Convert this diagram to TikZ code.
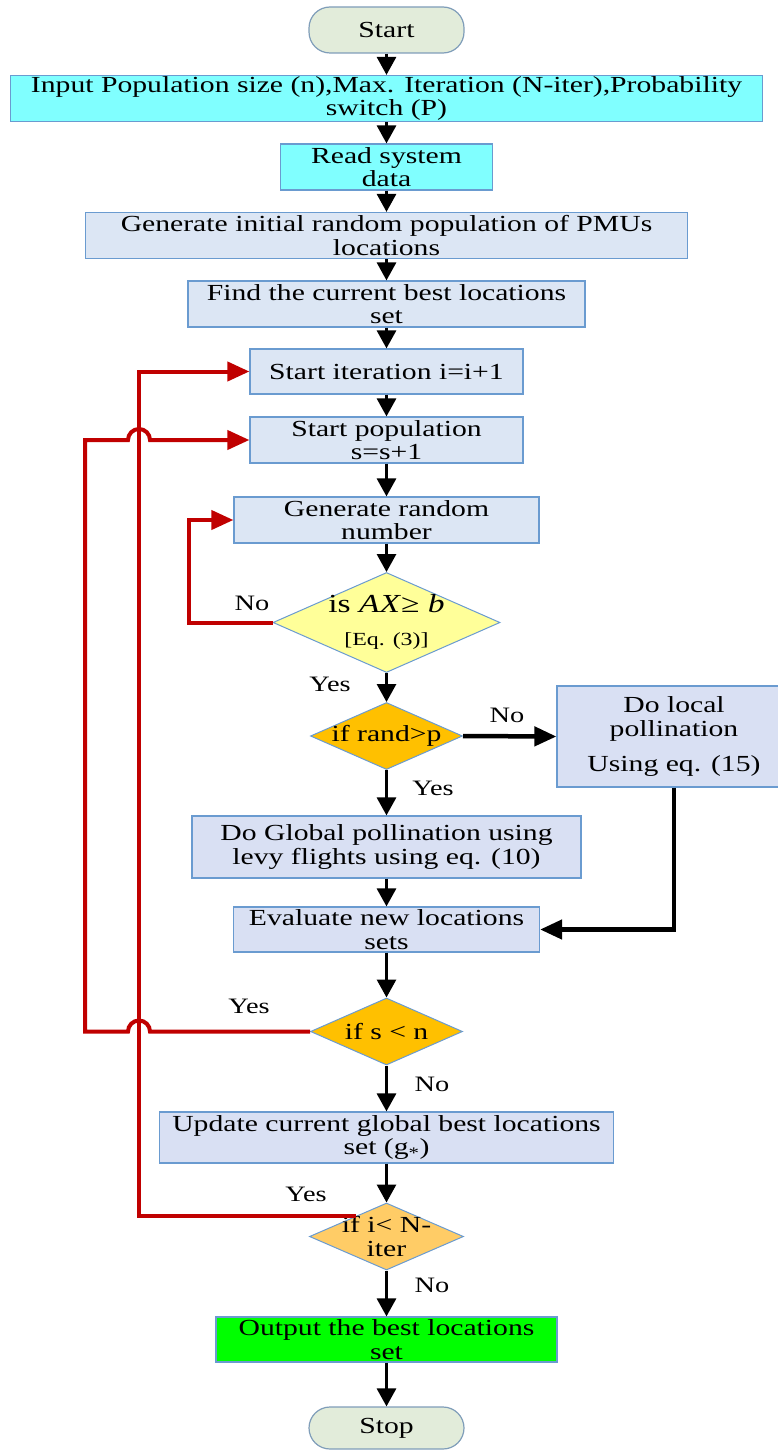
\documentclass[tikz,border=0pt]{standalone}
\usepackage{fontspec}
\setmainfont{Liberation Serif}[FakeStretch=1.29]
\usetikzlibrary{shapes.geometric,arrows.meta,calc}
\definecolor{bordc}{HTML}{6A9BD0}
\definecolor{termb}{HTML}{7F9DB9}
\definecolor{termc}{HTML}{E2ECDA}
\definecolor{cyanc}{HTML}{80FFFF}
\definecolor{lbluea}{HTML}{DCE6F4}
\definecolor{lblueb}{HTML}{D9E0F3}
\definecolor{yelc}{HTML}{FFFF99}
\definecolor{orc}{HTML}{FFC000}
\definecolor{lorc}{HTML}{FFCC66}
\definecolor{grc}{HTML}{00FF00}
\definecolor{redc}{HTML}{C00000}
\begin{document}
\begin{tikzpicture}[x=1pt,y=-1pt,
  font=\fontsize{23}{23.5}\selectfont,
  box/.style={draw=bordc, line width=1.2pt, rectangle, inner sep=0pt, align=center, text=black},
  term/.style={box, draw=termb, rounded corners=21pt, fill=termc},
  diam/.style={diamond, draw=bordc, line width=1pt, inner sep=0pt},
  arr/.style={line width=3pt, -{Triangle[width=19pt,length=18pt]}},
  tharr/.style={line width=4.5pt, -{Triangle[width=19pt,length=22pt]}},
  redarr/.style={line width=4pt, draw=redc, line join=miter, -{Triangle[width=19pt,length=22pt]}},
  lab/.style={inner sep=0pt, font=\fontsize{22}{24}\selectfont}
]
\useasboundingbox (0,0) rectangle (777,1450);

% nodes
\node[term, minimum width=155pt, minimum height=46pt] (start) at (386.5,30) {Start};
\node[box, fill=cyanc, minimum width=752pt, minimum height=46pt] (input) at (386.5,98.5)
  {Input Population size (n),Max. Iteration (N-iter),Probability\\switch (P)};
\node[box, fill=cyanc, minimum width=212pt, minimum height=46pt] (read) at (386.5,167) {Read system\\data};
\node[box, fill=lbluea, minimum width=602pt, minimum height=46pt] (geninit) at (386.5,235.5)
  {Generate initial random population of PMUs\\locations};
\node[box, fill=lbluea, minimum width=397pt, minimum height=46pt] (find) at (386.5,304)
  {Find the current best locations\\set};
\node[box, fill=lbluea, minimum width=273pt, minimum height=45pt] (siter) at (386.5,371.5) {Start iteration i=i+1};
\node[box, fill=lbluea, minimum width=273pt, minimum height=46pt] (spop) at (386.5,440) {Start population\\s=s+1};
\node[box, fill=lbluea, minimum width=305pt, minimum height=46pt] (genrand) at (386.5,520) {Generate random\\number};

\node[diam, fill=yelc, minimum width=227pt, minimum height=100pt] (d1) at (386.5,622.5) {};
\node[inner sep=0pt, font=\fontsize{26}{28}\selectfont] (d1a) at (386.5,604) {is \textit{AX}≥ \textit{b}};
\node[inner sep=0pt, font=\fontsize{18.5}{20}\selectfont] (d1b) at (386.5,641) {[Eq. (3)]};

\node[diam, fill=orc, minimum width=152pt, minimum height=67pt] (d2) at (386.5,736) {};
\node[inner sep=0pt] (d2t) at (386.5,736) {if rand>p};

\node[box, fill=lblueb, minimum width=234pt, minimum height=101pt] (local) at (674,736.5)
  {Do local\\pollination\\[12pt]Using eq. (15)};
\node[box, fill=lblueb, minimum width=389pt, minimum height=62pt] (global) at (386.5,847)
  {Do Global pollination using\\levy flights using eq. (10)};
\node[box, fill=lblueb, minimum width=306pt, minimum height=45pt] (eval) at (386.5,929.5)
  {Evaluate new locations\\sets};

\node[diam, fill=orc, minimum width=152pt, minimum height=67pt] (d3) at (386.5,1031.5) {};
\node[inner sep=0pt] (d3t) at (386.5,1031.5) {if s < n};

\node[box, fill=lblueb, minimum width=454pt, minimum height=51pt] (update) at (386.5,1137.5)
  {Update current global best locations\\set (g\textsubscript{*})};

\node[diam, fill=lorc, minimum width=154pt, minimum height=67pt] (d4) at (386.5,1236.5) {};
\node[inner sep=0pt, align=center] (d4t) at (386.5,1236.5) {if i< N-\\iter};

\node[box, fill=grc, minimum width=341pt, minimum height=45pt] (output) at (386.5,1339.5)
  {Output the best locations\\set};
\node[term, minimum width=155pt, minimum height=42pt] (stop) at (386.5,1428) {Stop};

% labels
\node[lab] (lno1) at (252,603) {No};
\node[lab] (lyes1) at (330,684) {Yes};
\node[lab] (lno2) at (507,715) {No};
\node[lab] (lyes2) at (433,788) {Yes};
\node[lab] (lyes3) at (249,1006) {Yes};
\node[lab] (lno3) at (432,1084) {No};
\node[lab] (lyes4) at (306,1194) {Yes};
\node[lab] (lno4) at (432,1285) {No};

% black connectors
\draw[arr] (start) -- (input);
\draw[arr] (input) -- (read);
\draw[arr] (read) -- (geninit);
\draw[arr] (geninit) -- (find);
\draw[arr] (find) -- (siter);
\draw[arr] (siter) -- (spop);
\draw[arr] (spop) -- (genrand);
\draw[arr] (genrand) -- (d1.north);
\draw[arr] (d1.south) -- (d2.north);
\draw[tharr] (d2.east) -- (local.west);
\draw[arr] (d2.south) -- (global.north);
\draw[arr] (global) -- (eval);
\draw[tharr] (local.south) |- (eval.east);
\draw[arr] (eval) -- (d3.north);
\draw[arr] (d3.south) -- (update.north);
\draw[arr] (update) -- (d4.north);
\draw[arr] (d4.south) -- (output.north);
\draw[arr] (output) -- (stop);

% red loops
\coordinate (hopA) at (139,440);
\coordinate (hopB) at (139,1031.5);
\coordinate (cA1) at (85,1031.5);
\coordinate (cA2) at (85,440);
\coordinate (d4e) at ($(d4.north)!0.4!(d4.west)$);
\coordinate (cB1) at (d4e -| hopA);
\coordinate (cB2) at (siter.west -| hopA);
\coordinate (cC) at ($(d1.west)+(-84,0)$);

\draw[redarr] (d1.west) -- (cC) |- (genrand.west);
\draw[redarr] (d3.west) -- ([xshift=11pt]hopB) arc[start angle=0, end angle=180, radius=11pt]
  -- (cA1) -- (cA2) -- ([xshift=-11pt]hopA) arc[start angle=180, end angle=0, radius=11pt] -- (spop.west);
\draw[redarr] (d4e) -- (cB1) -- (cB2) -- (siter.west);
\end{tikzpicture}
\end{document}
